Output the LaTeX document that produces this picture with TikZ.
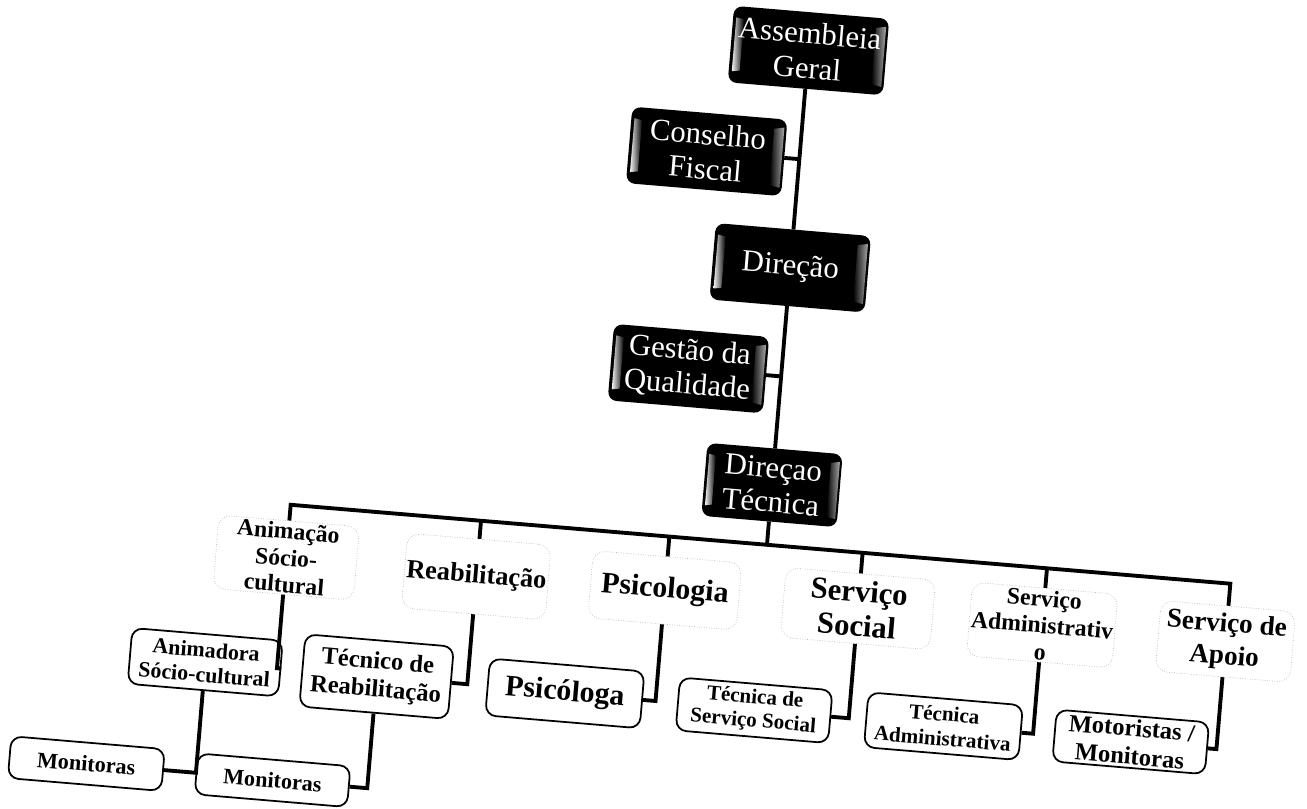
\documentclass[tikz,border=0pt]{standalone}
\usepackage{fontspec}
\setmainfont{Liberation Serif}
\usetikzlibrary{calc,backgrounds}

\begin{document}
\begin{tikzpicture}[
    x=0.02cm, y=0.02cm,
    dark/.style={text=white,align=center,inner sep=1pt,
                 minimum width=3.1cm,minimum height=1.52cm,
                 font=\fontsize{17.5}{19.6}\selectfont},
    unit/.style={draw=gray!55,densely dotted,fill=white,rounded corners=7pt,
                 align=center,inner sep=1pt,minimum width=2.9cm,minimum height=1.45cm,
                 font=\bfseries\fontsize{15}{17}\selectfont},
    staff/.style={draw,line width=1pt,fill=white,rounded corners=6pt,align=center,
                  inner sep=1pt,minimum width=3.05cm,minimum height=1.1cm,
                  font=\bfseries\fontsize{12.5}{14}\selectfont},
    conn/.style={line width=2.2pt},
    lite/.style={left color=gray!10,right color=black},
    rim/.style={left color=black,right color=gray!70}
  ]
  \useasboundingbox (-772,-323) rectangle (535,485);
  \begin{scope}[rotate=-4.8,transform shape]
  % board
  \node[dark] (ag) at (0,436) {Assembleia\\Geral};
  \node[dark] (cf) at (-93,327) {Conselho\\Fiscal};
  \node[dark] (dir) at (0,218) {Direção};
  \node[dark] (gq) at (-93,109) {Gestão da\\Qualidade};
  \node[dark,minimum width=2.7cm,minimum height=1.45cm] (dtec) at (0,0) {Direçao\\Técnica};
  \coordinate (bus) at (0,-60);

  % services
  \node[unit,minimum width=2.82cm,minimum height=1.42cm,
        font=\bfseries\fontsize{13.5}{15.2}\selectfont] (anim) at (-478,-113) {Animação\\Sócio-\\cultural};
  \node[unit,minimum width=2.88cm,minimum height=1.5cm] (reab) at (-287,-116) {Reabilitação};
  \node[unit,minimum width=2.98cm,minimum height=1.35cm,
        font=\bfseries\fontsize{17}{19}\selectfont] (psico) at (-98,-114) {Psicologia};
  \node[unit,minimum width=3.0cm,minimum height=1.4cm,
        font=\bfseries\fontsize{17.5}{19.6}\selectfont] (ssoc) at (96,-116) {Serviço\\Social};
  \node[unit,minimum width=2.88cm,minimum height=1.48cm,
        font=\bfseries\fontsize{13.5}{15.2}\selectfont] (sadm) at (281,-117) {Serviço\\Administrativ\\o};
  \node[unit,minimum width=2.7cm,minimum height=1.42cm,
        font=\bfseries\fontsize{15.5}{18.5}\selectfont] (apoio) at (465,-118) {Serviço de\\Apoio};

  % staff
  \node[staff,minimum width=3.02cm,minimum height=1.12cm] (animadora) at (-550,-224) {Animadora\\Sócio-cultural};
  \node[staff,minimum width=2.98cm,minimum height=1.45cm,
        font=\bfseries\fontsize{14}{16}\selectfont] (treab) at (-378,-224) {Técnico de\\Reabilitação};
  \node[staff,minimum width=3.1cm,minimum height=1.14cm,
        font=\bfseries\fontsize{17}{19}\selectfont] (psicologa) at (-189,-225) {Psicóloga};
  \node[staff,minimum width=3.06cm,minimum height=1.06cm,
        font=\bfseries\fontsize{12}{13.5}\selectfont] (tss) at (1,-226) {Técnica de\\Serviço Social};
  \node[staff,minimum width=3.1cm,minimum height=1.1cm,
        font=\bfseries\fontsize{12}{14}\selectfont] (tadm) at (191,-226) {Técnica\\Administrativa};
  \node[staff,minimum width=3.06cm,minimum height=1.04cm,
        font=\bfseries\fontsize{14}{16}\selectfont] (motor) at (379,-226) {Motoristas /\\Monitoras};
  \node[staff,minimum width=3.08cm,minimum height=0.84cm,
        font=\bfseries\fontsize{12.6}{14}\selectfont] (mon1) at (-660,-335) {Monitoras};
  \node[staff,minimum width=3.06cm,minimum height=0.82cm,
        font=\bfseries\fontsize{12.6}{14}\selectfont] (mon2) at (-473,-336) {Monitoras};

  % black boxes with bevelled sides
  \begin{pgfonlayer}{background}
    \foreach \n in {ag,cf,dir,gq,dtec} {
      \fill[rounded corners=5pt] (\n.north) -- (\n.north east) -- (\n.south east)
        -- (\n.south west) -- (\n.north west) -- cycle;
      \shade[lite] ($(\n.north west)!0.14!(\n.south west)!0.02!(\n.east)$)
        -- ($(\n.north west)!0.14!(\n.south west)!0.07!(\n.east)$)
        -- ($(\n.south west)!0.14!(\n.north west)!0.07!(\n.east)$)
        -- ($(\n.south west)!0.14!(\n.north west)!0.02!(\n.east)$) -- cycle;
      \shade[rim] ($(\n.north east)!0.1!(\n.south east)!0.08!(\n.west)$)
        -- ($(\n.north east)!0.1!(\n.south east)!0.015!(\n.west)$)
        -- ($(\n.south east)!0.1!(\n.north east)!0.015!(\n.west)$)
        -- ($(\n.south east)!0.1!(\n.north east)!0.08!(\n.west)$) -- cycle;
    }
  \end{pgfonlayer}

  % links
  \draw[conn] (ag) -- (dir);
  \draw[conn] (dir) -- (dtec);
  \draw[conn] (cf.east) -- ($(ag)!(cf.east)!(dir)$);
  \draw[conn] (gq.east) -- ($(dir)!(gq.east)!(dtec)$);
  \draw[conn] (dtec) -- (bus);
  \draw[conn] (anim.north) -- ($(anim.north)!(bus)!(anim.south)$)
    -- ($(apoio.north)!(bus)!(apoio.south)$) -- (apoio.north);
  \foreach \n in {reab,psico,ssoc,sadm}
    \draw[conn] (\n.north) -- ($(\n.north)!(bus)!(\n.south)$);
  \foreach \p/\c in {anim/animadora,reab/treab,psico/psicologa,ssoc/tss,
                     sadm/tadm,apoio/motor,animadora/mon1,treab/mon2}
    \draw[conn] (\p.south) -- ($(\p.south)!(\c.east)!(\p.north)$) -- (\c.east);
  \end{scope}
\end{tikzpicture}
\end{document}
